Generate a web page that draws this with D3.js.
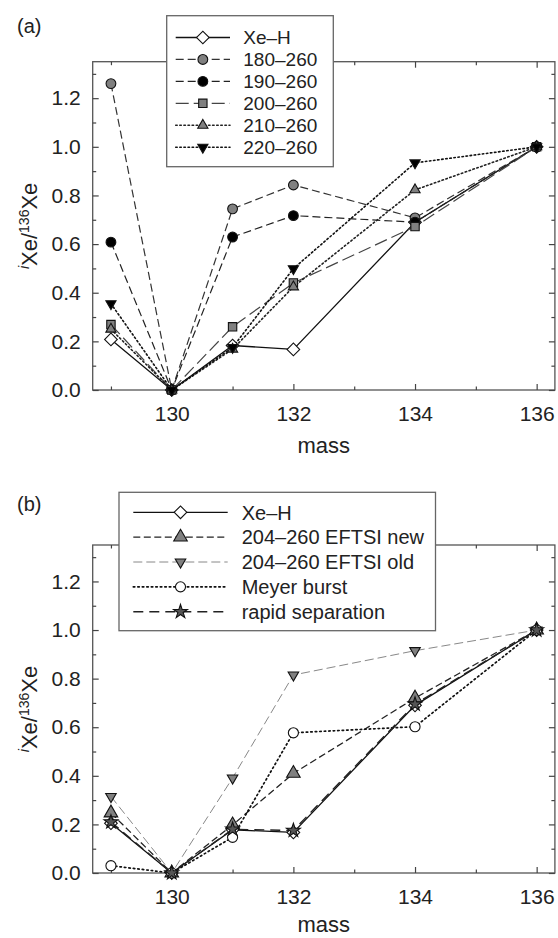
<!DOCTYPE html>
<html>
<head>
<meta charset="utf-8">
<script src="https://cdn.jsdelivr.net/npm/d3@7"></script>
<style>
  body { margin: 0; background: #fff; }
  text { font-family: "Liberation Sans", Arial, sans-serif; fill: #222; }
</style>
</head>
<body>
<svg id="chart" width="558" height="938"></svg>
<script>
// masses on the x axis
const masses = [129, 130, 131, 132, 134, 136];

// panel (a) series
const xeH_a = [0.208, 0, 0.183, 0.167, 0.69, 1.0];
const s180 = [1.26, 0, 0.745, 0.843, 0.708, 1.0];
const s190 = [0.608, 0, 0.629, 0.717, 0.69, 1.0];
const s200 = [0.269, 0, 0.26, 0.44, 0.672, 1.0];
const s210 = [0.25, 0, 0.168, 0.424, 0.823, 1.0];
const s220 = [0.355, 0, 0.175, 0.499, 0.934, 1.0];

// panel (b) series
const xeH_b = [0.205, 0, 0.178, 0.167, 0.69, 1.0];
const eftsiNew = [0.247, 0, 0.198, 0.41, 0.72, 1.0];
const eftsiOld = [0.315, 0, 0.391, 0.815, 0.915, 1.0];
const meyer = [0.03, 0, 0.147, 0.577, 0.602, 1.0];
const rapid = [0.21, 0, 0.18, 0.175, 0.695, 1.0];

// ticks
const xMajor = [130, 132, 134, 136];
const xMinor = [129, 131, 133, 135];
const yMajor = [0, 0.2, 0.4, 0.6, 0.8, 1.0, 1.2];
const yMinor = [0.1, 0.3, 0.5, 0.7, 0.9, 1.1, 1.3];

const svg = d3.select("#chart");
const x = d3.scaleLinear().domain([128.7, 136.3]).range([92.7, 554.9]);

const diamond = {type: d3.symbolSquare, rot: 45};

const seriesA = [
  {name: "Xe\u2013H", values: xeH_a, dash: null, stroke: "#111", sw: 1.3, sym: diamond, size: 80, fill: "#fff"},
  {name: "180\u2013260", values: s180, dash: "8,4", stroke: "#333", sw: 1.2, sym: {type: d3.symbolCircle, rot: 0}, size: 75, fill: "#808080"},
  {name: "190\u2013260", values: s190, dash: "8,4", stroke: "#222", sw: 1.2, sym: {type: d3.symbolCircle, rot: 0}, size: 75, fill: "#000"},
  {name: "200\u2013260", values: s200, dash: "13,5", stroke: "#444", sw: 1.2, sym: {type: d3.symbolSquare, rot: 0}, size: 70, fill: "#808080"},
  {name: "210\u2013260", values: s210, dash: "1.5,2.6", stroke: "#222", sw: 1.6, sym: {type: d3.symbolTriangle, rot: 0}, size: 45, fill: "#808080"},
  {name: "220\u2013260", values: s220, dash: "1.5,2.6", stroke: "#111", sw: 1.6, sym: {type: d3.symbolTriangle, rot: 180}, size: 45, fill: "#000"}
];

const seriesB = [
  {name: "Xe\u2013H", values: xeH_b, dash: null, stroke: "#111", sw: 1.3, sym: diamond, size: 80, fill: "#fff"},
  {name: "204\u2013260 EFTSI new", values: eftsiNew, dash: "7,3.5", stroke: "#222", sw: 1.3, sym: {type: d3.symbolTriangle, rot: 0}, size: 80, fill: "#808080"},
  {name: "204\u2013260 EFTSI old", values: eftsiOld, dash: "9,4", stroke: "#888", sw: 1, sym: {type: d3.symbolTriangle, rot: 180}, size: 48, fill: "#808080"},
  {name: "Meyer burst", values: meyer, dash: "1.5,3", stroke: "#111", sw: 1.7, sym: {type: d3.symbolCircle, rot: 0}, size: 80, fill: "#fff"},
  {name: "rapid separation", values: rapid, dash: "10,6", stroke: "#222", sw: 1.4, sym: {type: d3.symbolStar, rot: 0}, size: 60, fill: "#555"}
];

function marker(g, s, px, py) {
  g.append("path")
    .attr("d", d3.symbol(s.sym.type, s.size)())
    .attr("transform", `translate(${px},${py}) rotate(${s.sym.rot})`)
    .attr("fill", s.fill).attr("stroke", "#111").attr("stroke-width", 1.1);
}

function panel(top, bottom, label, labelY, massY, series, leg) {
  const y = d3.scaleLinear().domain([0, 1.35]).range([bottom, top]);
  const g = svg.append("g");
  const L = x.range()[0], R = x.range()[1];

  // frame
  g.append("rect").attr("x", L).attr("y", top).attr("width", R - L).attr("height", bottom - top)
    .attr("fill", "none").attr("stroke", "#555").attr("stroke-width", 1.3);

  const style = sel => {
    sel.select(".domain").remove();
    sel.selectAll("line").attr("stroke", "#444").attr("stroke-width", 1.2);
    sel.selectAll("text").style("font-size", "21px").attr("fill", "#222");
  };

  g.append("g").attr("transform", `translate(0,${bottom})`)
    .call(d3.axisBottom(x).tickValues(xMajor).tickSize(-6).tickPadding(16).tickFormat(d3.format("d"))).call(style);
  g.append("g").attr("transform", `translate(0,${bottom})`)
    .call(d3.axisBottom(x).tickValues(xMinor).tickSize(-3.5).tickFormat("")).call(style);
  g.append("g").attr("transform", `translate(0,${top})`)
    .call(d3.axisTop(x).tickValues(xMajor).tickSize(-6).tickFormat("")).call(style);
  g.append("g").attr("transform", `translate(0,${top})`)
    .call(d3.axisTop(x).tickValues(xMinor).tickSize(-3.5).tickFormat("")).call(style);

  g.append("g").attr("transform", `translate(${L},0)`)
    .call(d3.axisLeft(y).tickValues(yMajor).tickSize(-6).tickPadding(12).tickFormat(d3.format(".1f"))).call(style);
  g.append("g").attr("transform", `translate(${L},0)`)
    .call(d3.axisLeft(y).tickValues(yMinor).tickSize(-3.5).tickFormat("")).call(style);
  g.append("g").attr("transform", `translate(${R},0)`)
    .call(d3.axisRight(y).tickValues(yMajor).tickSize(-6).tickFormat("")).call(style);
  g.append("g").attr("transform", `translate(${R},0)`)
    .call(d3.axisRight(y).tickValues(yMinor).tickSize(-3.5).tickFormat("")).call(style);

  // axis titles
  g.append("text").attr("x", (L + R) / 2).attr("y", massY).attr("text-anchor", "middle")
    .style("font-size", "22px").text("mass");
  const yt = g.append("text").attr("transform", `translate(37,${(top + bottom) / 2}) rotate(-90)`)
    .attr("text-anchor", "middle").style("font-size", "22px");
  yt.append("tspan").attr("font-style", "italic").attr("baseline-shift", "super").style("font-size", "14px").text("i");
  yt.append("tspan").text("Xe/");
  yt.append("tspan").attr("baseline-shift", "super").style("font-size", "14px").text("136");
  yt.append("tspan").text("Xe");

  g.append("text").attr("x", 17).attr("y", labelY).style("font-size", "20px").text(label);

  // lines
  const line = d3.line().x((d, i) => x(masses[i])).y(d => y(d));
  series.forEach(s => {
    g.append("path").datum(s.values).attr("d", line)
      .attr("fill", "none").attr("stroke", s.stroke).attr("stroke-width", s.sw)
      .attr("stroke-dasharray", s.dash).attr("stroke-linecap", s.dash && s.dash.startsWith("1.5") ? "round" : "butt");
  });
  series.forEach(s => {
    s.values.forEach((v, i) => marker(g, s, x(masses[i]), y(v)));
  });

  // legend
  const lg = g.append("g");
  lg.append("rect").attr("x", leg.x).attr("y", leg.y).attr("width", leg.w).attr("height", leg.h)
    .attr("fill", "#fff").attr("stroke", "#666").attr("stroke-width", 1.3);
  series.forEach((s, i) => {
    const ry = leg.row0 + i * leg.step;
    lg.append("line").attr("x1", leg.l1).attr("x2", leg.l2).attr("y1", ry).attr("y2", ry)
      .attr("stroke", s.stroke).attr("stroke-width", s.sw).attr("stroke-dasharray", s.dash)
      .attr("stroke-linecap", s.dash && s.dash.startsWith("1.5") ? "round" : "butt");
    marker(lg, s, (leg.l1 + leg.l2) / 2, ry);
    lg.append("text").attr("x", leg.tx).attr("y", ry).attr("dy", "0.36em")
      .style("font-size", leg.fs + "px").text(s.name);
  });
}

panel(61.7, 390, "(a)", 33, 453, seriesA,
  {x: 166.7, y: 15.7, w: 166.6, h: 151, row0: 37.5, step: 21.95, l1: 175.7, l2: 230, tx: 243.3, fs: 19});
panel(545, 873, "(b)", 511, 932, seriesB,
  {x: 119, y: 492.3, w: 316.5, h: 138.4, row0: 512.3, step: 24.85, l1: 133.3, l2: 227.7, tx: 241.7, fs: 20});
</script>
</body>
</html>
